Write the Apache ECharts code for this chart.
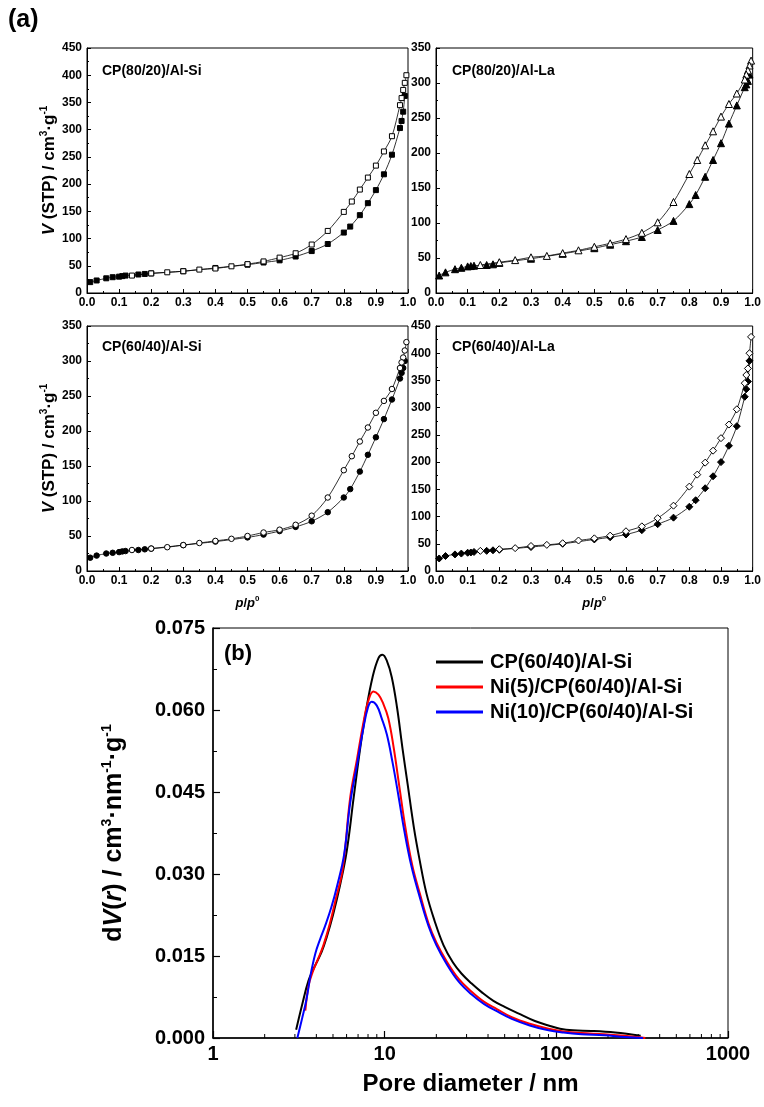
<!DOCTYPE html>
<html>
<head>
<meta charset="utf-8">
<script src="https://cdn.jsdelivr.net/npm/echarts@6/dist/echarts.min.js"></script>
<style>
  html, body { margin: 0; padding: 0; background: #fff; }
  #chart { width: 764px; height: 1107px; }
</style>
</head>
<body>
<div id="chart"></div>
<script>
// relative pressure points (adsorption / desorption branches)
var pAds = [0.01, 0.03, 0.06, 0.08, 0.10, 0.11, 0.12, 0.16, 0.18, 0.20, 0.30, 0.40, 0.50, 0.55, 0.60, 0.65, 0.70, 0.75, 0.80, 0.82, 0.85, 0.875, 0.90, 0.925, 0.95, 0.975, 0.98, 0.985, 0.99];
var pDes = [0.995, 0.99, 0.985, 0.98, 0.975, 0.95, 0.925, 0.90, 0.875, 0.85, 0.825, 0.80, 0.75, 0.70, 0.65, 0.60, 0.55, 0.50, 0.45, 0.40, 0.35, 0.30, 0.25, 0.20, 0.14];

// CP(80/20)/Al-Si
var siA80Ads = [20, 23, 27, 29, 30, 31, 32, 34, 35, 36, 40, 46, 52, 56, 60, 67, 77, 90, 111, 122, 143, 165, 189, 218, 254, 303, 316, 333, 362];
var siA80Des = [400, 386, 373, 358, 345, 288, 260, 234, 212, 190, 168, 149, 114, 89, 73, 65, 58, 53, 49, 45, 43, 40, 38, 36, 32];
// CP(80/20)/Al-La
var la80Ads = [25, 29.5, 34, 36, 38, 38.5, 39, 40, 41, 43, 49, 56, 64, 69, 74, 80, 90, 103, 127, 140, 166, 190, 214, 242, 268, 294, 298, 303, 312];
var la80Des = [332, 325, 318, 312, 305, 285, 270, 252, 231, 211, 190, 170, 130, 101, 86, 77, 71, 66, 61, 57, 53, 51, 47, 44, 40];
// CP(60/40)/Al-Si
var si60Ads = [19, 22, 25, 26, 27, 28, 28.5, 30, 31, 32, 37, 42, 48, 52, 57, 63, 71, 84, 105, 117, 142, 166, 191, 217, 245, 275, 283, 290, 300];
var si60Des = [327, 315, 305, 298, 290, 260, 243, 226, 205, 185, 164, 144, 105, 79, 66, 59, 55, 50, 46, 43, 40, 37, 34, 32, 30];
// CP(60/40)/Al-La
var la60Ads = [23, 27.5, 30.5, 32, 33.5, 34, 35, 37, 38, 39, 44, 50, 58, 62, 67, 75, 86, 98, 118, 130, 152, 174, 200, 230, 266, 320, 334, 348, 386];
var la60Des = [430, 400, 372, 360, 345, 297, 269, 244, 221, 199, 177, 155, 120, 97, 82, 73, 65, 60, 56, 51, 48, 46, 42, 40, 37];

var panelNames = ['CP(80/20)/Al-Si', 'CP(80/20)/Al-La', 'CP(60/40)/Al-Si', 'CP(60/40)/Al-La'];
var panelMax = [450, 350, 350, 450];

// pore size distributions
var psdNames = ['CP(60/40)/Al-Si', 'Ni(5)/CP(60/40)/Al-Si', 'Ni(10)/CP(60/40)/Al-Si'];
var dBlack = [3.05, 3.3, 3.6, 3.9, 4.3, 4.6, 5.0, 5.5, 6.0, 6.6, 7.2, 7.8, 8.5, 9.2, 9.7, 10.3, 11.0, 11.8, 12.7, 13.6, 14.8, 16.0, 17.5, 19.5, 22, 25, 28, 32, 37, 43, 50, 60, 75, 90, 105, 125, 160, 220, 310];
var vBlack = [0.0015, 0.0060, 0.0105, 0.0130, 0.0158, 0.0185, 0.0225, 0.0280, 0.0340, 0.0440, 0.0530, 0.0600, 0.0660, 0.0695, 0.0701, 0.0690, 0.0660, 0.0605, 0.0530, 0.0465, 0.0385, 0.0325, 0.0265, 0.0215, 0.0170, 0.0138, 0.0118, 0.0100, 0.0083, 0.0068, 0.0057, 0.0045, 0.0031, 0.0023, 0.0017, 0.0014, 0.0013, 0.0010, 0.0004];
var dRed = [3.45, 3.6, 3.8, 4.1, 4.4, 4.8, 5.2, 5.7, 6.3, 6.9, 7.5, 8.0, 8.6, 9.2, 9.8, 10.5, 11.3, 12.2, 13.2, 14.5, 16, 18, 20, 23, 27, 32, 38, 45, 55, 70, 90, 110, 140, 190, 250, 330];
var vRed = [0.0050, 0.0095, 0.0120, 0.0145, 0.0170, 0.0210, 0.0255, 0.0310, 0.0440, 0.0510, 0.0575, 0.0615, 0.0634, 0.0628, 0.0612, 0.0585, 0.0530, 0.0458, 0.0385, 0.0315, 0.0265, 0.0210, 0.0175, 0.0140, 0.0108, 0.0085, 0.0066, 0.0053, 0.0038, 0.0026, 0.0017, 0.0012, 0.0009, 0.0007, 0.0004, 0.0000];
var dBlue = [3.1, 3.3, 3.5, 3.7, 3.95, 4.2, 4.5, 4.9, 5.3, 5.8, 6.3, 6.9, 7.5, 8.0, 8.4, 9.0, 9.6, 10.3, 11.1, 12.0, 13.0, 14.3, 16, 18, 20, 23, 27, 32, 38, 45, 55, 70, 90, 110, 140, 190, 250, 320];
var vBlue = [0.0000, 0.0035, 0.0070, 0.0115, 0.0155, 0.0180, 0.0205, 0.0240, 0.0280, 0.0335, 0.0430, 0.0500, 0.0565, 0.0605, 0.0615, 0.0608, 0.0585, 0.0555, 0.0505, 0.0445, 0.0380, 0.0315, 0.0258, 0.0205, 0.0170, 0.0135, 0.0103, 0.0080, 0.0062, 0.0049, 0.0035, 0.0023, 0.0014, 0.0010, 0.0007, 0.0005, 0.0002, 0.0000];
var logMinor = [2, 3, 4, 5, 6, 7, 8, 9, 20, 30, 40, 50, 60, 70, 80, 90, 200, 300, 400, 500, 600, 700, 800, 900];

var FONT = '"Liberation Sans", Arial, sans-serif';

function pairs(xs, ys) {
  return xs.map(function (x, i) { return [x, ys[i]]; });
}

var grids = [
  { left: 87, top: 48, width: 321, height: 245 },
  { left: 436, top: 48, width: 320, height: 245 },
  { left: 87, top: 326, width: 321, height: 245 },
  { left: 436, top: 326, width: 320, height: 245 },
  { left: 213, top: 628, width: 515, height: 410 }
];
grids.forEach(function (g) {
  g.show = true;
  g.borderColor = '#000';
  g.borderWidth = 1;
  g.backgroundColor = 'transparent';
});

var xAxes = [], yAxes = [];
for (var i = 0; i < 4; i++) {
  xAxes.push({
    gridIndex: i, type: 'value', min: 0, max: 1, interval: 0.1,
    name: i >= 2 ? '{i|p}{n|/}{i|p}{s|0}' : '',
    nameLocation: 'middle', nameGap: 24,
    nameTextStyle: {
      rich: {
        i: { fontStyle: 'italic', fontWeight: 'bold', fontSize: 13, fontFamily: FONT, lineHeight: 16 },
        n: { fontWeight: 'bold', fontSize: 13, fontFamily: FONT, lineHeight: 16 },
        s: { fontWeight: 'bold', fontSize: 8, fontFamily: FONT, lineHeight: 8, verticalAlign: 'top' }
      }
    },
    axisLine: { lineStyle: { color: '#000', width: 1 } },
    axisTick: { inside: true, length: 4, lineStyle: { color: '#000' } },
    minorTick: { show: true, splitNumber: 2, length: 2, lineStyle: { color: '#000' } },
    splitLine: { show: false },
    axisLabel: {
      margin: 4, color: '#000', fontWeight: 'bold', fontSize: 12, fontFamily: FONT,
      formatter: function (v) { return v.toFixed(1); }
    }
  });
  yAxes.push({
    gridIndex: i, type: 'value', min: 0, max: panelMax[i], interval: 50,
    name: (i % 2 === 0) ? '{i|V}{n| (STP) / cm}{s|3}{n|·g}{s|-1}' : '',
    nameLocation: 'middle', nameGap: 27,
    nameTextStyle: {
      rich: {
        i: { fontStyle: 'italic', fontWeight: 'bold', fontSize: 17, fontFamily: FONT, lineHeight: 20 },
        n: { fontWeight: 'bold', fontSize: 17, fontFamily: FONT, lineHeight: 20 },
        s: { fontWeight: 'bold', fontSize: 10, fontFamily: FONT, lineHeight: 10, verticalAlign: 'top' }
      }
    },
    axisLine: { show: true, lineStyle: { color: '#000', width: 1 } },
    axisTick: { inside: true, length: 4, lineStyle: { color: '#000' } },
    minorTick: { show: true, splitNumber: 2, length: 2, lineStyle: { color: '#000' } },
    splitLine: { show: false },
    axisLabel: { margin: 5, color: '#000', fontWeight: 'bold', fontSize: 12, fontFamily: FONT }
  });
}
xAxes.push({
  gridIndex: 4, type: 'log', logBase: 10, min: 1, max: 1000,
  name: 'Pore diameter / nm', nameLocation: 'middle', nameGap: 34,
  nameTextStyle: { color: '#000', fontWeight: 'bold', fontSize: 24, fontFamily: FONT },
  axisLine: { lineStyle: { color: '#000', width: 1.5 } },
  axisTick: { inside: true, length: 7, lineStyle: { color: '#000', width: 1.2 } },
  splitLine: { show: false },
  axisLabel: {
    margin: 6, color: '#000', fontWeight: 'bold', fontSize: 20, fontFamily: FONT,
    formatter: function (v) { return String(Math.round(v)); }
  }
});
yAxes.push({
  gridIndex: 4, type: 'value', min: 0, max: 0.075, interval: 0.015,
  name: '{n|d}{i|V}{n|(}{i|r}{n|) / cm}{s|3}{n|·nm}{s|-1}{n|·g}{s|-1}',
  nameLocation: 'middle', nameGap: 84,
  nameTextStyle: {
    rich: {
      i: { fontStyle: 'italic', fontWeight: 'bold', fontSize: 25, fontFamily: FONT, lineHeight: 29 },
      n: { fontWeight: 'bold', fontSize: 25, fontFamily: FONT, lineHeight: 29 },
      s: { fontWeight: 'bold', fontSize: 14, fontFamily: FONT, lineHeight: 14, verticalAlign: 'top' }
    }
  },
  axisLine: { show: true, lineStyle: { color: '#000', width: 1.5 } },
  axisTick: { inside: true, length: 7, lineStyle: { color: '#000', width: 1.2 } },
  minorTick: { show: true, splitNumber: 2, length: 4, lineStyle: { color: '#000' } },
  splitLine: { show: false },
  axisLabel: {
    margin: 8, color: '#000', fontWeight: 'bold', fontSize: 20, fontFamily: FONT,
    formatter: function (v) { return v.toFixed(3); }
  }
});

var symbols = ['rect', 'triangle', 'circle', 'diamond'];
var symSizes = [5, 7, 5.5, 7];
var adsData = [siA80Ads, la80Ads, si60Ads, la60Ads];
var desData = [siA80Des, la80Des, si60Des, la60Des];

var series = [];
for (var k = 0; k < 4; k++) {
  series.push({
    type: 'line', xAxisIndex: k, yAxisIndex: k,
    data: pairs(pAds, adsData[k]),
    smooth: 0.3, symbol: symbols[k], symbolSize: symSizes[k], showAllSymbol: true,
    lineStyle: { color: '#000', width: 0.8 },
    itemStyle: { color: '#000', borderColor: '#000', borderWidth: 1 },
    z: 3
  });
  series.push({
    type: 'line', xAxisIndex: k, yAxisIndex: k,
    data: pairs(pDes, desData[k]),
    smooth: 0.3, symbol: symbols[k], symbolSize: symSizes[k], showAllSymbol: true,
    lineStyle: { color: '#000', width: 0.8 },
    itemStyle: { color: '#fff', borderColor: '#000', borderWidth: 1 },
    z: 4
  });
}
var psdX = [dBlack, dRed, dBlue];
var psdY = [vBlack, vRed, vBlue];
var psdColors = ['#000000', '#ff0000', '#0000ff'];
for (var m = 0; m < 3; m++) {
  series.push({
    name: psdNames[m], type: 'line', xAxisIndex: 4, yAxisIndex: 4,
    data: pairs(psdX[m], psdY[m]),
    smooth: 0.4, symbol: 'none',
    lineStyle: { color: psdColors[m], width: 2 },
    itemStyle: { color: psdColors[m] },
    z: 3 + m
  });
}
// log minor ticks on the pore diameter axis
series.push({
  type: 'custom', xAxisIndex: 4, yAxisIndex: 4, silent: true,
  data: logMinor.map(function (v) { return [v, 0]; }),
  renderItem: function (params, api) {
    var p = api.coord([api.value(0), 0]);
    return {
      type: 'line',
      shape: { x1: p[0], y1: p[1], x2: p[0], y2: p[1] - 4 },
      style: { stroke: '#000', lineWidth: 1 }
    };
  }
});

var labelPos = [[102, 64], [452, 64], [102, 340], [452, 340]];
var graphics = [
  { type: 'text', left: 8, top: 8, style: { text: '(a)', font: 'bold 25px ' + FONT, fill: '#000' } },
  { type: 'text', left: 224, top: 643, style: { text: '(b)', font: 'bold 22px ' + FONT, fill: '#000' } }
];
labelPos.forEach(function (pos, i) {
  graphics.push({ type: 'text', left: pos[0], top: pos[1], style: { text: panelNames[i], font: 'bold 14px ' + FONT, fill: '#000' } });
});

var option = {
  animation: false,
  backgroundColor: '#fff',
  textStyle: { fontFamily: FONT },
  grid: grids,
  xAxis: xAxes,
  yAxis: yAxes,
  legend: {
    data: psdNames,
    left: 431, top: 647,
    orient: 'vertical',
    icon: 'rect',
    itemWidth: 47, itemHeight: 3, itemGap: 5,
    textStyle: { color: '#000', fontWeight: 'bold', fontSize: 20, fontFamily: FONT, padding: [0, 0, 0, 2] }
  },
  graphic: graphics,
  series: series
};

var myChart = echarts.init(document.getElementById('chart'));
myChart.setOption(option);
</script>
</body>
</html>
